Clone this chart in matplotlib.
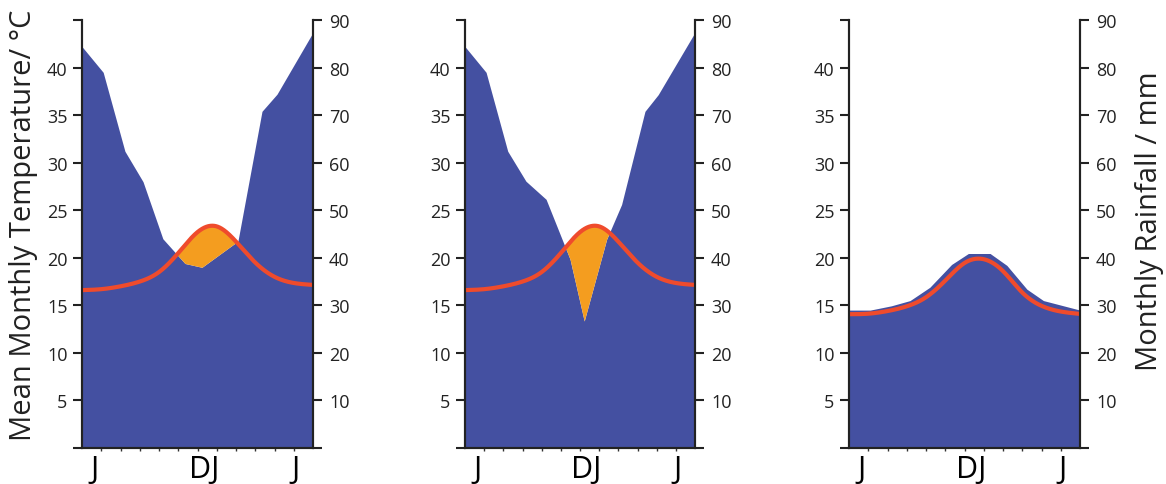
import numpy as np
import matplotlib
matplotlib.use("Agg")
import matplotlib.pyplot as plt

plt.rcParams["font.family"] = ["Open Sans", "DejaVu Sans"]

BLUE = "#4450a1"
ORANGE = "#f49d1f"
RED = "#ef4b2c"

# months run July -> Dec/Jan -> July, one unit per month
MONTHS = np.arange(13)
MONTH_LABELS = ["J", "DJ", "J"]
MONTH_LABEL_POS = [0.65, 6.33, 11.1]

# mean monthly temperature (deg C)
temp_a = [16.6, 16.7, 17.0, 17.5, 18.5, 20.5, 22.7, 23.3, 21.7, 19.5, 18.0, 17.35, 17.15]
temp_b = [16.6, 16.7, 17.0, 17.5, 18.5, 20.5, 22.7, 23.3, 21.7, 19.5, 18.0, 17.35, 17.15]
temp_c = [14.07, 14.12, 14.4, 14.9, 15.85, 17.6, 19.45, 19.85, 18.6, 16.35, 14.95, 14.35, 14.1]

# monthly rainfall (mm), sampled where the outline changes slope
rain_a_x = [0, 1.1, 2.23, 3.17, 4.2, 5.35, 6.23, 8.1, 9.35, 10.13, 12]
rain_a = [84.4, 79.0, 62.4, 56.0, 44.0, 38.8, 38.0, 43.5, 70.8, 74.4, 87.4]
rain_b_x = [0, 1.1, 2.23, 3.18, 4.23, 5.48, 6.22, 7.39, 8.17, 9.39, 10.08, 12]
rain_b = [84.4, 79.0, 62.4, 56.1, 52.3, 39.7, 26.7, 43.9, 51.2, 70.8, 74.3, 87.4]
rain_c_x = [0, 1.1, 2.2, 3.17, 4.2, 5.33, 6.2, 7.33, 8.2, 9.24, 10.1, 12]
rain_c = [29.0, 29.0, 29.9, 31.0, 33.8, 38.6, 40.9, 40.9, 38.4, 33.4, 31.0, 29.0]

TEMP_MAX = 45
RAIN_MAX = 90


def spline(x, y, xf):
    """Natural cubic spline through (x, y), evaluated at xf."""
    x = np.asarray(x, float)
    y = np.asarray(y, float)
    n = len(x)
    h = np.diff(x)
    A = np.zeros((n, n))
    b = np.zeros(n)
    A[0, 0] = A[-1, -1] = 1
    for i in range(1, n - 1):
        A[i, i - 1] = h[i - 1]
        A[i, i] = 2 * (h[i - 1] + h[i])
        A[i, i + 1] = h[i]
        b[i] = 6 * ((y[i + 1] - y[i]) / h[i] - (y[i] - y[i - 1]) / h[i - 1])
    M = np.linalg.solve(A, b)
    k = np.clip(np.searchsorted(x, xf) - 1, 0, n - 2)
    hk = h[k]
    t0 = x[k + 1] - xf
    t1 = xf - x[k]
    return (M[k] * t0**3 / (6 * hk) + M[k + 1] * t1**3 / (6 * hk)
            + (y[k] / hk - M[k] * hk / 6) * t0
            + (y[k + 1] / hk - M[k + 1] * hk / 6) * t1)


def climograph(left, width, temp, rain_x, rain):
    ax = fig.add_axes([left, 0.0742, width, 0.8825])
    ax2 = ax.twinx()
    ax.set_zorder(ax2.get_zorder() + 1)
    ax.patch.set_visible(False)

    xf = np.linspace(0, 12, 800)
    temp_f = spline(MONTHS, temp, xf)
    rain_f = np.interp(xf, rain_x, rain) * TEMP_MAX / RAIN_MAX

    ax2.fill_between(rain_x, 0, rain, color=BLUE, lw=0)
    ax.fill_between(xf, rain_f, temp_f, where=temp_f > rain_f,
                    interpolate=True, color=ORANGE, lw=0)
    ax.plot(xf, temp_f, color=RED, lw=3, solid_capstyle="butt")

    ax.set_xlim(0, 12)
    ax.set_ylim(0, TEMP_MAX)
    ax2.set_ylim(0, RAIN_MAX)

    ax.set_yticks(np.arange(0, 46, 5))
    ax.set_yticklabels([""] + [str(v) for v in range(5, 45, 5)] + [""])
    ax2.set_yticks(np.arange(0, 91, 10))
    ax2.set_yticklabels([""] + [str(v) for v in range(10, 100, 10)])

    ax.set_xticks(MONTH_LABEL_POS)
    ax.set_xticklabels(MONTH_LABELS, fontsize=22)
    ax.set_xticks(MONTHS[1:-1], minor=True)
    ax.tick_params(axis="x", which="major", length=0, pad=4)
    ax.tick_params(axis="x", which="minor", length=2.5, width=1, color="#333333")
    ax.tick_params(axis="y", length=6.5, width=1.5, pad=4, labelsize=13,
                   colors="#222222")
    ax2.tick_params(axis="y", length=6.5, width=1.5, pad=5, labelsize=13,
                    colors="#222222")

    for a in (ax, ax2):
        a.spines["top"].set_visible(False)
        for s in ("left", "right", "bottom"):
            a.spines[s].set_linewidth(1.5)
            a.spines[s].set_color("#222222")
    return ax


fig = plt.figure(figsize=(11.66, 4.85), dpi=100)

climograph(82 / 1166, 231 / 1166, temp_a, rain_a_x, rain_a)
climograph(465 / 1166, 230 / 1166, temp_b, rain_b_x, rain_b)
climograph(849 / 1166, 231 / 1166, temp_c, rain_c_x, rain_c)

fig.text(24 / 1166, 1 - 225 / 485, "Mean Monthly Temperature/ °C",
         rotation=90, ha="center", va="center", fontsize=21, color="#222222")
fig.text(1149 / 1166, 1 - 221 / 485, "Monthly Rainfall / mm",
         rotation=90, ha="center", va="center", fontsize=21, color="#222222")

fig.savefig("out.png", dpi=100)
